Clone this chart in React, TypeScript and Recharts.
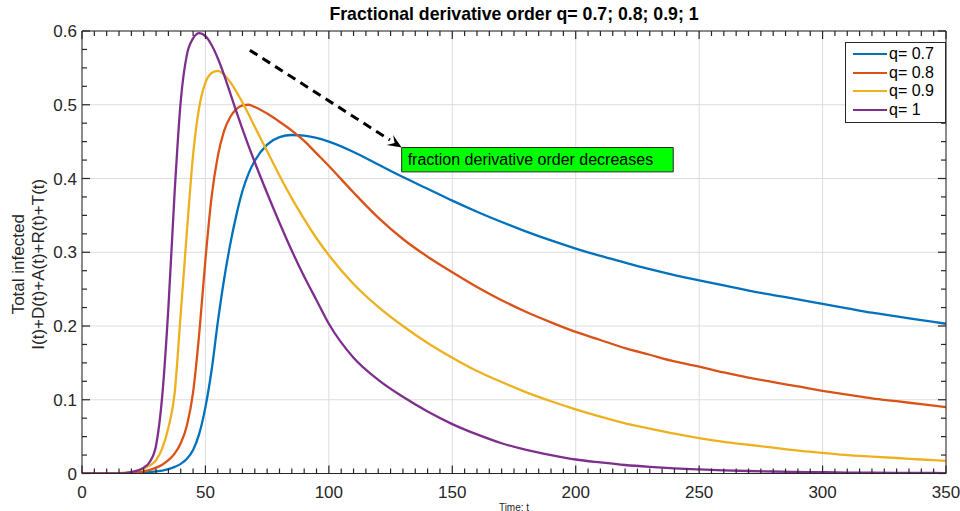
import React from "react";
import { LineChart, Line, XAxis, YAxis, CartesianGrid, Legend, ReferenceLine, ReferenceArea } from "recharts";

const FONT = '"Liberation Sans", Arial, Helvetica, sans-serif';
const AXIS = "#262626";
const GRID = "#dddddd";

// plot frame in pixels
const LEFT = 82;
const RIGHT = 946;
const TOP = 31;
const BOTTOM = 473.5;

// time samples
const times = [
  0, 5, 10, 15, 20, 22.5, 25, 27.5, 30, 32.5, 35, 37.5, 40, 42.5, 45, 47.5, 50, 52.5, 55, 57.5,
  60, 62.5, 65, 67.5, 70, 75, 80, 85, 90, 95, 100, 110, 120, 130, 140, 150, 160, 170, 180, 190,
  200, 210, 220, 230, 240, 250, 260, 270, 280, 290, 300, 310, 320, 330, 340, 350,
];

// total infected for each fractional order
const q07 = [
  0, 0, 0, 0, 0, 0.0005, 0.001, 0.002, 0.003, 0.004, 0.006, 0.009, 0.013, 0.02, 0.032, 0.054, 0.09, 0.14, 0.205, 0.262,
  0.31, 0.35, 0.383, 0.407, 0.424, 0.446, 0.456, 0.459, 0.458, 0.455, 0.45, 0.436, 0.419, 0.402, 0.386, 0.37, 0.355, 0.341, 0.328, 0.316,
  0.305, 0.295, 0.286, 0.277, 0.269, 0.262, 0.255, 0.248, 0.242, 0.236, 0.23, 0.224, 0.218, 0.213, 0.208, 0.203,
];
const q08 = [
  0, 0, 0, 0, 0.001, 0.002, 0.003, 0.005, 0.008, 0.012, 0.018, 0.027, 0.041, 0.065, 0.11, 0.19, 0.29, 0.375, 0.43, 0.464,
  0.483, 0.494, 0.499, 0.5, 0.497, 0.488, 0.477, 0.465, 0.451, 0.434, 0.417, 0.381, 0.347, 0.318, 0.294, 0.273, 0.253, 0.235, 0.219, 0.205,
  0.192, 0.181, 0.17, 0.161, 0.152, 0.145, 0.137, 0.13, 0.124, 0.118, 0.112, 0.107, 0.102, 0.098, 0.094, 0.09,
];
const q09 = [
  0, 0, 0, 0.0005, 0.002, 0.004, 0.007, 0.011, 0.018, 0.034, 0.062, 0.108, 0.217, 0.328, 0.432, 0.497, 0.53, 0.543, 0.546, 0.541,
  0.531, 0.518, 0.503, 0.487, 0.47, 0.437, 0.404, 0.373, 0.345, 0.319, 0.296, 0.257, 0.226, 0.2, 0.177, 0.157, 0.139, 0.124, 0.11, 0.098,
  0.087, 0.077, 0.068, 0.061, 0.054, 0.048, 0.043, 0.039, 0.035, 0.031, 0.028, 0.025, 0.023, 0.021, 0.019, 0.017,
];
const q1 = [
  0, 0, 0, 0, 0.002, 0.004, 0.008, 0.016, 0.038, 0.105, 0.225, 0.38, 0.505, 0.568, 0.59, 0.597, 0.593, 0.581, 0.563, 0.541,
  0.516, 0.491, 0.467, 0.444, 0.422, 0.38, 0.34, 0.302, 0.267, 0.235, 0.203, 0.157, 0.127, 0.104, 0.084, 0.067, 0.053, 0.041, 0.032, 0.025,
  0.019, 0.015, 0.0115, 0.009, 0.007, 0.0055, 0.0043, 0.0034, 0.0027, 0.0021, 0.0017, 0.0013, 0.001, 0.0008, 0.0007, 0.0006,
];

// labelled ticks; minor ticks fall every 5 on x and every 0.025 on y
const xTicks = [0, 50, 100, 150, 200, 250, 300, 350];
const yTicks = [0, 0.1, 0.2, 0.3, 0.4, 0.5, 0.6];
const xAll = Array.from({ length: 71 }, (_, i) => i * 5);
const yAll = Array.from({ length: 25 }, (_, i) => +(i * 0.025).toFixed(3));

const data = times.map((t, i) => ({ t, q07: q07[i], q08: q08[i], q09: q09[i], q1: q1[i] }));

const MAJOR = 8;
const MINOR = 5;

// inward tick marks on both opposite edges, labels only on the major ones
const BottomTick = ({ x, payload }: any) => {
  const major = xTicks.includes(payload.value);
  const len = major ? MAJOR : MINOR;
  return (
    <g>
      <line x1={x} y1={BOTTOM} x2={x} y2={BOTTOM - len} stroke={AXIS} strokeWidth={1.2} />
      <line x1={x} y1={TOP} x2={x} y2={TOP + len} stroke={AXIS} strokeWidth={1.2} />
      {major && (
        <text x={x} y={BOTTOM + 24} textAnchor="middle" fontSize={17} fill={AXIS} fontFamily={FONT}>
          {payload.value}
        </text>
      )}
    </g>
  );
};
const LeftTick = ({ y, payload }: any) => {
  const major = yTicks.some((v) => Math.abs(v - payload.value) < 1e-6);
  const len = major ? MAJOR : MINOR;
  return (
    <g>
      <line x1={LEFT} y1={y} x2={LEFT + len} y2={y} stroke={AXIS} strokeWidth={1.2} />
      <line x1={RIGHT} y1={y} x2={RIGHT - len} y2={y} stroke={AXIS} strokeWidth={1.2} />
      {major && (
        <text x={LEFT - 5} y={y + 6} textAnchor="end" fontSize={17} fill={AXIS} fontFamily={FONT}>
          {payload.value}
        </text>
      )}
    </g>
  );
};

const YLabel = () => {
  const cy = (TOP + BOTTOM) / 2 + 12;
  return (
    <g fontFamily={FONT} fontSize={17} fill={AXIS} textAnchor="middle">
      <text x={24} y={cy} transform={`rotate(-90 24 ${cy})`}>Total infected</text>
      <text x={44} y={cy} transform={`rotate(-90 44 ${cy})`}>I(t)+D(t)+A(t)+R(t)+T(t)</text>
    </g>
  );
};
const XLabel = () => (
  <text x={(LEFT + RIGHT) / 2} y={BOTTOM + 37} textAnchor="middle" fontSize={10} fill={AXIS} fontFamily={FONT}>
    Time: t
  </text>
);

const Arrow = ({ x1, y1, x2, y2 }: any) => {
  const a = Math.atan2(y2 - y1, x2 - x1);
  const len = 14;
  const bx = x2 - len * Math.cos(a);
  const by = y2 - len * Math.sin(a);
  const w = 6;
  const nx = -Math.sin(a) * w;
  const ny = Math.cos(a) * w;
  const mx = x2 - len * 0.6 * Math.cos(a);
  const my = y2 - len * 0.6 * Math.sin(a);
  return (
    <g>
      <line x1={x1} y1={y1} x2={bx} y2={by} stroke="#000" strokeWidth={3} strokeDasharray="9 6" />
      <polygon points={`${x2},${y2} ${bx + nx},${by + ny} ${mx},${my} ${bx - nx},${by - ny}`} fill="#000" />
    </g>
  );
};

const LegendBox = ({ payload }: any) => (
  <div style={{ border: `1px solid ${AXIS}`, background: "#fff", padding: "2px 4px 3px 7px", fontFamily: FONT, fontSize: 16, color: "#000" }}>
    {(payload || []).map((e: any) => (
      <div key={e.value} style={{ display: "flex", alignItems: "center", height: 18.5, whiteSpace: "nowrap" }}>
        <span style={{ display: "inline-block", width: 34, borderTop: `2.5px solid ${e.color}`, marginRight: 2 }} />
        {e.value}
      </div>
    ))}
  </div>
);

export default function App() {
  return (
    <div style={{ position: "absolute", left: 0, top: 0, width: 960, height: 511, background: "#fff", fontFamily: FONT }}>
      <div style={{ position: "absolute", left: LEFT, top: 4, width: RIGHT - LEFT, textAlign: "center", fontWeight: "bold", fontSize: 17.7, lineHeight: "20px", color: "#000" }}>
        Fractional derivative order q= 0.7; 0.8; 0.9; 1
      </div>
      <LineChart width={960} height={511} data={data} margin={{ top: TOP, right: 960 - RIGHT, bottom: 511 - BOTTOM - 1, left: LEFT - 1 }}>
        <CartesianGrid stroke={GRID} verticalValues={xTicks} horizontalValues={yTicks} />
        <Line type="monotone" dataKey="q07" name="q= 0.7" stroke="#0072BD" strokeWidth={2.3} dot={false} isAnimationActive={false} />
        <Line type="monotone" dataKey="q08" name="q= 0.8" stroke="#D95319" strokeWidth={2.3} dot={false} isAnimationActive={false} />
        <Line type="monotone" dataKey="q09" name="q= 0.9" stroke="#EDB120" strokeWidth={2.3} dot={false} isAnimationActive={false} />
        <Line type="monotone" dataKey="q1" name="q= 1" stroke="#7E2F8E" strokeWidth={2.3} dot={false} isAnimationActive={false} />
        {/* plot frame */}
        <ReferenceLine x={0} stroke={AXIS} />
        <ReferenceLine x={350} stroke={AXIS} />
        <ReferenceLine y={0} stroke={AXIS} />
        <ReferenceLine y={0.6} stroke={AXIS} />
        <XAxis dataKey="t" type="number" domain={[0, 350]} allowDataOverflow ticks={xAll} interval={0} height={1}
          tickSize={0} tickMargin={0} tickLine={false} axisLine={false} tick={<BottomTick />} label={<XLabel />} />
        <YAxis type="number" domain={[0, 0.6]} allowDataOverflow ticks={yAll} interval={0} width={1}
          tickSize={0} tickMargin={0} tickLine={false} axisLine={false} tick={<LeftTick />} label={<YLabel />} />
        <Legend layout="vertical" align="center" verticalAlign="middle" content={<LegendBox />}
          wrapperStyle={{ top: 42, left: 845, right: "auto", bottom: "auto", width: 101, height: "auto" }} />
        <ReferenceLine segment={[{ x: 68, y: 0.574 }, { x: 129.5, y: 0.442 }]} ifOverflow="visible" shape={<Arrow />} />
        <ReferenceArea x1={129.5} x2={239.5} y1={0.409} y2={0.442} fill="#00ff00" fillOpacity={1} stroke={AXIS}
          label={{ value: "fraction derivative order decreases", position: "insideLeft", offset: 6, fill: "#000", fontSize: 16, fontFamily: FONT }} />
      </LineChart>
    </div>
  );
}
